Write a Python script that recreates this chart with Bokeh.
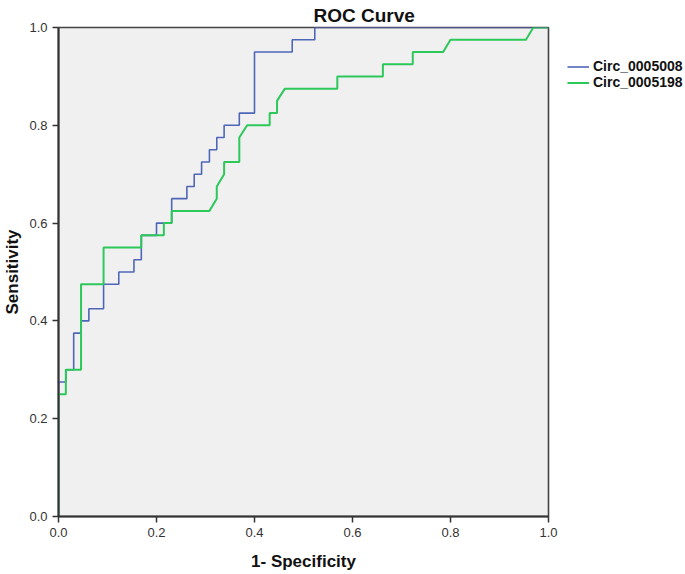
from bokeh.plotting import figure
from bokeh.models import Legend, LegendItem, FixedTicker, PrintfTickFormatter, Range1d
from bokeh.embed import file_html
from bokeh.resources import INLINE

# ROC points (1 - specificity, sensitivity)
fpr_5008 = [0, 0, 0.015, 0.015, 0.031, 0.031, 0.046, 0.046, 0.062, 0.062, 0.092, 0.092,
            0.123, 0.123, 0.154, 0.154, 0.169, 0.169, 0.200, 0.200, 0.231, 0.231, 0.262, 0.262,
            0.277, 0.277, 0.292, 0.292, 0.308, 0.308, 0.323, 0.323, 0.338, 0.338, 0.369, 0.369,
            0.400, 0.400, 0.477, 0.477, 0.523, 0.523, 1.0]
tpr_5008 = [0, 0.275, 0.275, 0.300, 0.300, 0.375, 0.375, 0.400, 0.400, 0.425, 0.425, 0.475,
            0.475, 0.500, 0.500, 0.525, 0.525, 0.575, 0.575, 0.600, 0.600, 0.650, 0.650, 0.675,
            0.675, 0.700, 0.700, 0.725, 0.725, 0.750, 0.750, 0.775, 0.775, 0.800, 0.800, 0.825,
            0.825, 0.950, 0.950, 0.975, 0.975, 1.0, 1.0]

fpr_5198 = [0, 0, 0.015, 0.015, 0.046, 0.046, 0.092, 0.092, 0.169, 0.169, 0.215, 0.215,
            0.231, 0.231, 0.308, 0.323, 0.323, 0.338, 0.338, 0.369, 0.369, 0.385, 0.431, 0.431,
            0.446, 0.446, 0.462, 0.569, 0.569, 0.662, 0.662, 0.723, 0.723, 0.785, 0.800, 0.954,
            0.969, 1.0]
tpr_5198 = [0, 0.250, 0.250, 0.300, 0.300, 0.475, 0.475, 0.550, 0.550, 0.575, 0.575, 0.600,
            0.600, 0.625, 0.625, 0.650, 0.675, 0.700, 0.725, 0.725, 0.775, 0.800, 0.800, 0.825,
            0.825, 0.850, 0.875, 0.875, 0.900, 0.900, 0.925, 0.925, 0.950, 0.950, 0.975, 0.975,
            1.0, 1.0]

series_names = ["Circ_0005008", "Circ_0005198"]
series_colors = ["#4f66b8", "#2cc85a"]
tick_values = [0.0, 0.2, 0.4, 0.6, 0.8, 1.0]

FONT = "Liberation Sans"

p = figure(frame_width=490, frame_height=489, output_backend="svg", toolbar_location=None,
           x_range=Range1d(0, 1), y_range=Range1d(0, 1),
           min_border_left=58, min_border_right=137, min_border_top=27, min_border_bottom=58,
           background_fill_color="#f0f0f0", border_fill_color="white")

p.title.text = "ROC Curve"
p.title.align = "left"
p.title.offset = 255
p.title.vertical_align = "top"
p.title.text_font = FONT
p.title.text_font_size = "19px"
p.title.text_font_style = "bold"
p.title.text_color = "#111111"
p.title.text_line_height = 0.8
p.title.standoff = 0

p.outline_line_color = "#444444"
p.outline_line_width = 1.6
p.grid.visible = False

for ax in (p.xaxis[0], p.yaxis[0]):
    ax.ticker = FixedTicker(ticks=tick_values)
    ax.formatter = PrintfTickFormatter(format="%.1f")
    ax.axis_line_color = "#333333"
    ax.axis_line_width = 2
    ax.major_tick_line_color = "#333333"
    ax.major_tick_line_width = 1.5
    ax.major_tick_out = 6
    ax.major_tick_in = 0
    ax.minor_tick_line_color = None
    ax.major_label_text_font = FONT
    ax.major_label_text_font_size = "13px"
    ax.major_label_text_color = "#333333"
    ax.major_label_standoff = 5
    ax.axis_label_text_font = FONT
    ax.axis_label_text_font_size = "17px"
    ax.axis_label_text_font_style = "bold"
    ax.axis_label_text_color = "#111111"

p.xaxis[0].axis_label = "1- Specificity"
p.yaxis[0].axis_label = "Sensitivity"
p.xaxis[0].axis_label_standoff = 12
p.yaxis[0].axis_label_standoff = 4

r1 = p.line(fpr_5008, tpr_5008, line_color=series_colors[0], line_width=1.6)
r2 = p.line(fpr_5198, tpr_5198, line_color=series_colors[1], line_width=2)

legend = Legend(items=[LegendItem(label=series_names[0], renderers=[r1]),
                       LegendItem(label=series_names[1], renderers=[r2])],
                location=(19, 426), padding=0, margin=0, spacing=0,
                glyph_width=22, glyph_height=15, label_height=15, label_standoff=4,
                label_text_font=FONT, label_text_font_size="14px",
                label_text_font_style="bold", label_text_color="#111111",
                border_line_color=None, background_fill_alpha=0)
p.add_layout(legend, "right")

open("out.html", "w").write(file_html(p, INLINE))
